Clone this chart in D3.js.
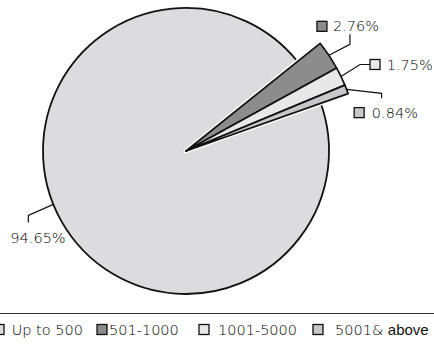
<!DOCTYPE html>
<html>
<head>
<meta charset="utf-8">
<script src="https://cdn.jsdelivr.net/npm/d3@7"></script>
<style>
  body { margin: 0; background: #fff; }
  text { font-family: "DejaVu Sans", sans-serif; font-weight: 200; fill: #000; }
</style>
</head>
<body>
<div id="chart"></div>
<script>
// data
let categories = ["Up to 500", "501-1000", "1001-5000", "5001& above"]
let shares = [94.65, 2.76, 1.75, 0.84]
let pctLabels = ["94.65%", "2.76%", "1.75%", "0.84%"]
let fills = ["#dcdcde", "#8c8c8c", "#e8e8e8", "#c8c8ca"]

let width = 434, height = 348
let cx = 186, cy = 151, r = 143, rOut = 172
let rad = Math.PI / 180

let svg = d3.select("div#chart").append("svg")
    .attr("width", width)
    .attr("height", height)

let start = 70.5 * rad
let pie = d3.pie().sort(null).value(d => d)
    .startAngle(start).endAngle(start + 2 * Math.PI)
let arcs = pie(shares)

let bigArc = d3.arc().innerRadius(0).outerRadius(r)
let smallArc = d3.arc().innerRadius(0).outerRadius(rOut)

let g = svg.append("g").attr("transform", "translate(" + cx + "," + cy + ")")

// big slice
g.append("path")
    .attr("d", bigArc(arcs[0]))
    .style("fill", fills[0])
    .style("stroke", "#111")
    .style("stroke-width", 1.8)

// pulled-out small slices: white rim then black outline
let small = arcs.slice(1)
g.selectAll("path.rim").data(small).enter().append("path")
    .attr("class", "rim")
    .attr("d", smallArc)
    .style("fill", "#fff")
    .style("stroke", "#fff")
    .style("stroke-width", 4.5)
    .style("stroke-linejoin", "round")
g.selectAll("path.slice").data(small).enter().append("path")
    .attr("class", "slice")
    .attr("d", smallArc)
    .style("fill", (d, i) => fills[i + 1])
    .style("stroke", "#111")
    .style("stroke-width", 1.7)
    .style("stroke-linejoin", "round")

// label layout: anchor nudge (deg), elbow and end offsets, swatch & text offsets from end
let labelLayout = [
    {nudge: 7.2, rr: r, e1: [-25, 11], e2: [0, 7], sw: null, tx: [-18, 15]},
    {nudge: 0, rr: rOut, e1: [21, -11], e2: [0, -10], sw: [-33, -13], tx: [-17, -8.5]},
    {nudge: 0, rr: rOut, e1: [19, -12], e2: [10, 0], sw: [0, -5], tx: [16.7, 0]},
    {nudge: 0, rr: rOut, e1: [35, 4], e2: [0, 5], sw: [-27.4, 9.3], tx: [-9.7, 14]}
]

arcs.forEach((a, i) => {
    let L = labelLayout[i]
    let ang = (a.startAngle + a.endAngle) / 2 + L.nudge * rad
    let ax = cx + L.rr * Math.sin(ang), ay = cy - L.rr * Math.cos(ang)
    let bx = ax + L.e1[0], by = ay + L.e1[1]
    let ex = bx + L.e2[0], ey = by + L.e2[1]
    svg.append("polyline")
        .attr("points", ax + "," + ay + " " + bx + "," + by + " " + ex + "," + ey)
        .style("fill", "none")
        .style("stroke", "#111")
        .style("stroke-width", 1.2)
    if (L.sw) {
        svg.append("rect")
            .attr("x", ex + L.sw[0]).attr("y", ey + L.sw[1])
            .attr("width", 10).attr("height", 10)
            .style("fill", fills[i])
            .style("stroke", "#111")
            .style("stroke-width", 1.3)
    }
    svg.append("text")
        .attr("x", ex + L.tx[0]).attr("y", ey + L.tx[1])
        .attr("dy", "0.36em")
        .style("font-size", "14.5px")
        .text(pctLabels[i])
})

// legend
svg.append("line")
    .attr("x1", 0).attr("x2", width)
    .attr("y1", 313.5).attr("y2", 313.5)
    .style("stroke", "#333")
    .style("stroke-width", 1)

let legendSwatchX = [-6, 97, 199, 313]
let legendTextX = [11.7, 109, 218, 335]
let ly = 330

categories.forEach((c, i) => {
    svg.append("rect")
        .attr("x", legendSwatchX[i]).attr("y", ly - 5.5)
        .attr("width", 10).attr("height", 10)
        .style("fill", fills[i])
        .style("stroke", "#111")
        .style("stroke-width", 1.3)
    let t = svg.append("text")
        .attr("x", legendTextX[i]).attr("y", ly)
        .attr("dy", "0.36em")
        .style("font-size", "14.5px")
    if (c.indexOf(" above") > 0) {
        t.append("tspan").text(c.replace("above", ""))
        t.append("tspan")
            .style("font-family", "'Liberation Sans', Arial, sans-serif")
            .style("font-weight", 400)
            .style("fill", "#111")
            .style("font-size", "15px")
            .text("above")
    } else {
        t.text(c)
    }
})
</script>
</body>
</html>
